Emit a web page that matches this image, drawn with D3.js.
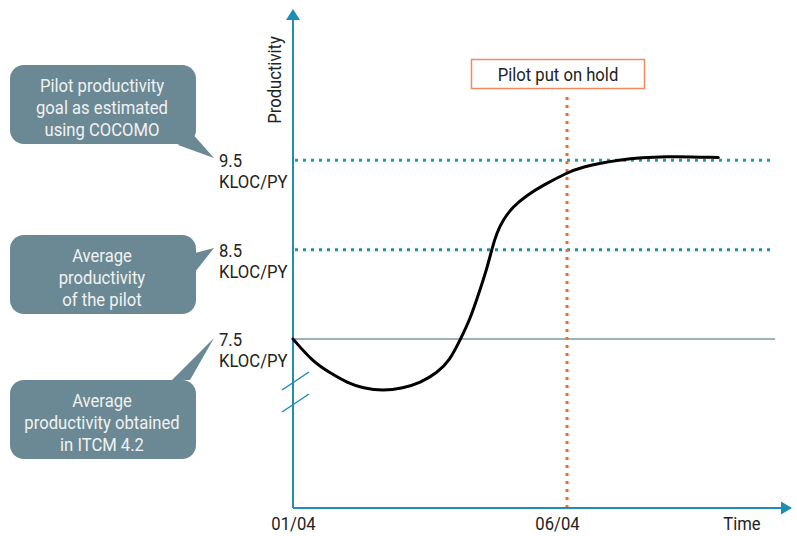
<!DOCTYPE html>
<html>
<head>
<meta charset="utf-8">
<script src="https://cdn.jsdelivr.net/npm/d3@7"></script>
<style>
  html, body { margin: 0; padding: 0; background: #fff; }
  svg { display: block; }
  text { font-family: "Roboto", "Liberation Sans", sans-serif; }
</style>
</head>
<body>
<svg id="chart" width="797" height="536"></svg>
<script>
// Months elapsed since 01/04 and productivity in KLOC/PY
const months = [0, 0.37, 0.68, 0.99, 1.28, 1.64, 2.01, 2.32, 2.63, 2.86, 3.05, 3.23, 3.38, 3.54, 3.63, 3.72, 3.83, 4.01, 4.27, 4.56, 5.0, 5.24, 5.91, 6.82, 7.76];
const productivity = [7.5, 7.24, 7.12, 7.01, 6.95, 6.92, 6.95, 7.01, 7.12, 7.26, 7.49, 7.72, 7.99, 8.29, 8.51, 8.69, 8.83, 8.98, 9.11, 9.22, 9.36, 9.42, 9.51, 9.55, 9.53];

// Reference levels
const levels = [9.5, 8.5, 7.5];
const levelLabels = ["9.5", "8.5", "7.5"];
const levelUnit = "KLOC/PY";

// Time axis
const tickMonths = [0, 5];
const tickLabels = ["01/04", "06/04"];
const holdMonth = 5;
const holdLabel = "Pilot put on hold";

// Callout texts, one per reference level
const callouts = [
  ["Pilot productivity", "goal as estimated", "using COCOMO"],
  ["Average", "productivity", "of the pilot"],
  ["Average", "productivity obtained", "in ITCM 4.2"]
];

const svg = d3.select("#chart");
const axisColor = "#1f8db5";
const FS = 18.5, SX = 0.9;

// Narrow text: taller glyphs squeezed horizontally
function label(px, py, str, opts = {}) {
  return svg.append("text")
    .attr("transform", `translate(${px},${py}) scale(${SX},1)`)
    .attr("text-anchor", opts.anchor || "start")
    .attr("font-size", FS)
    .attr("fill", opts.fill || "#222")
    .text(str);
}

const x = d3.scaleLinear().domain([0, 5]).range([293, 567]);
const y = d3.scaleLinear().domain([7.5, 9.5]).range([339, 160.3]);
const xEnd = 775, axisY = 508, axisTop = 20;

// Reference lines
const levelStyles = [
  {color: "#1aa5a3", dash: "3 5", width: 3},
  {color: "#1a92b8", dash: "3 5", width: 3},
  {color: "#7d98a4", dash: null, width: 1.5}
];
levels.forEach((v, i) => {
  const s = levelStyles[i];
  svg.append("line")
    .attr("x1", x(0) + 2).attr("x2", xEnd)
    .attr("y1", y(v)).attr("y2", y(v))
    .attr("stroke", s.color).attr("stroke-width", s.width)
    .attr("stroke-dasharray", s.dash);
});

// Hold marker
svg.append("line")
  .attr("x1", x(holdMonth)).attr("x2", x(holdMonth))
  .attr("y1", 97).attr("y2", axisY)
  .attr("stroke", "#f4692f").attr("stroke-width", 3)
  .attr("stroke-dasharray", "3 5");
svg.append("rect")
  .attr("x", 471.5).attr("y", 59.5).attr("width", 173).attr("height", 29)
  .attr("fill", "#fff").attr("stroke", "#f3895e").attr("stroke-width", 1.5);
label(558, 81, holdLabel, {anchor: "middle"});

// Axes with arrowheads
svg.append("line")
  .attr("x1", x(0)).attr("x2", x(0)).attr("y1", axisTop).attr("y2", axisY)
  .attr("stroke", axisColor).attr("stroke-width", 2);
svg.append("line")
  .attr("x1", x(0)).attr("x2", 782).attr("y1", axisY).attr("y2", axisY)
  .attr("stroke", axisColor).attr("stroke-width", 2);
svg.append("path")
  .attr("d", `M${x(0)},9 L${x(0) + 7},20 L${x(0) - 7},20 Z`)
  .attr("fill", axisColor);
svg.append("path")
  .attr("d", `M792,${axisY} L781,${axisY - 6.5} L781,${axisY + 6.5} Z`)
  .attr("fill", axisColor);

// Axis break marks
[0, 22].forEach(off => {
  svg.append("line")
    .attr("x1", 282).attr("y1", 390 + off).attr("x2", 309).attr("y2", 372 + off)
    .attr("stroke", axisColor).attr("stroke-width", 1.5);
});

// Time tick labels
const xAxis = d3.axisBottom(x).tickValues(tickMonths)
  .tickFormat((d, i) => tickLabels[i]).tickSize(0).tickPadding(0);
const gx = svg.append("g").attr("transform", `translate(0,${axisY})`).call(xAxis);
gx.select(".domain").remove();
gx.selectAll("text")
  .attr("font-family", "Roboto, 'Liberation Sans', sans-serif")
  .attr("font-size", FS).attr("fill", "#222")
  .attr("dy", null).attr("y", 0)
  .attr("transform", (d, i) => `translate(${i === 0 ? 0 : -10},22) scale(${SX},1)`);

label(742, 530, "Time", {anchor: "middle"});

svg.append("text")
  .attr("transform", `translate(281,80) rotate(-90) scale(${SX},1)`)
  .attr("text-anchor", "middle").attr("font-size", FS).attr("fill", "#222")
  .text("Productivity");

// Level labels
levels.forEach((v, i) => {
  label(219, y(v) + 7, levelLabels[i]);
  label(219, y(v) + 28, levelUnit);
});

// Callout bubbles
const calloutFill = "#6a8995";
const boxes = [
  {top: 65, tail: [[190, 131], [214, 158], [178, 145]]},
  {top: 235, tail: [[195, 253], [214, 248], [195, 272]]},
  {top: 380, tail: [[172, 380], [214, 338], [190, 380]]}
];
boxes.forEach((b, i) => {
  svg.append("rect")
    .attr("x", 10).attr("y", b.top).attr("width", 186).attr("height", 79)
    .attr("rx", 14).attr("fill", calloutFill);
  svg.append("path")
    .attr("d", "M" + b.tail.map(p => p.join(",")).join("L") + "Z")
    .attr("fill", calloutFill);
  callouts[i].forEach((line, j) => {
    label(102, b.top + 27 + j * 22, line, {anchor: "middle", fill: "#f2f2f2"});
  });
});

// Productivity curve (B-spline smooths the transitions between readings)
const line = d3.line()
  .x((d, i) => x(months[i]))
  .y(d => y(d))
  .curve(d3.curveBasis);
svg.append("path")
  .attr("d", line(productivity))
  .attr("fill", "none").attr("stroke", "#000").attr("stroke-width", 3)
  .attr("stroke-linecap", "round");
</script>
</body>
</html>
